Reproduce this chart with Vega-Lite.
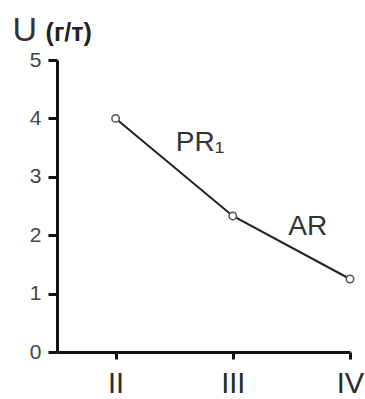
{
  "$schema": "https://vega.github.io/schema/vega-lite/v6.json",
  "autosize": "none",
  "width": 293,
  "height": 292,
  "padding": {"left": 57, "top": 60, "right": 15, "bottom": 47},
  "background": "white",
  "config": {"view": {"stroke": null}, "font": "Liberation Sans"},
  "datasets": {
    "pts": [
      {"stage": 2, "U": 4.0},
      {"stage": 3, "U": 2.33},
      {"stage": 4, "U": 1.25}
    ],
    "labels": [
      {"stage": 2.72, "U": 3.58, "label": "PR₁"},
      {"stage": 3.64, "U": 2.14, "label": "AR"}
    ],
    "unit": [
      {"stage": 1.6, "U": 5.47, "label": "(г/т)"}
    ]
  },
  "layer": [
    {
      "data": {"name": "pts"},
      "mark": {"type": "line", "color": "#222", "strokeWidth": 2},
      "encoding": {
        "x": {"field": "stage", "type": "quantitative", "scale": {"domain": [1.5, 4], "nice": false},
          "axis": {"values": [2, 3, 4], "labelExpr": "datum.value == 2 ? 'II' : datum.value == 3 ? 'III' : 'IV'", "title": null, "grid": false, "domainColor": "#111", "domainWidth": 3, "tickColor": "#111", "tickWidth": 3, "tickSize": 7, "labelFontSize": 29, "labelColor": "#2a2a2a", "labelPadding": 10, "labelBaseline": "top", "labelFlush": false}},
        "y": {"field": "U", "type": "quantitative", "scale": {"domain": [0, 5], "nice": false},
          "axis": {"values": [0, 1, 2, 3, 4, 5], "format": "d", "title": "U", "titleAngle": 0, "titleX": -45, "titleY": -20, "titleAlign": "left", "titleBaseline": "alphabetic", "titleFontSize": 34, "titleFontWeight": "normal", "titleColor": "#333", "grid": false, "domainColor": "#111", "domainWidth": 3, "tickColor": "#111", "tickWidth": 3, "tickSize": 9, "labelFontSize": 21, "labelColor": "#444", "labelPadding": 7}}
      }
    },
    {
      "data": {"name": "pts"},
      "mark": {"type": "point", "shape": "circle", "filled": true, "fill": "white", "stroke": "#555", "strokeWidth": 1.5, "size": 55, "opacity": 1},
      "encoding": {
        "x": {"field": "stage", "type": "quantitative"},
        "y": {"field": "U", "type": "quantitative"}
      }
    },
    {
      "data": {"name": "labels"},
      "mark": {"type": "text", "fontSize": 28, "color": "#333", "align": "center", "baseline": "middle"},
      "encoding": {
        "x": {"field": "stage", "type": "quantitative"},
        "y": {"field": "U", "type": "quantitative"},
        "text": {"field": "label"}
      }
    },
    {
      "data": {"name": "unit"},
      "mark": {"type": "text", "fontSize": 25, "fontWeight": "bold", "color": "#222", "align": "center", "baseline": "middle"},
      "encoding": {
        "x": {"field": "stage", "type": "quantitative"},
        "y": {"field": "U", "type": "quantitative"},
        "text": {"field": "label"}
      }
    }
  ]
}
